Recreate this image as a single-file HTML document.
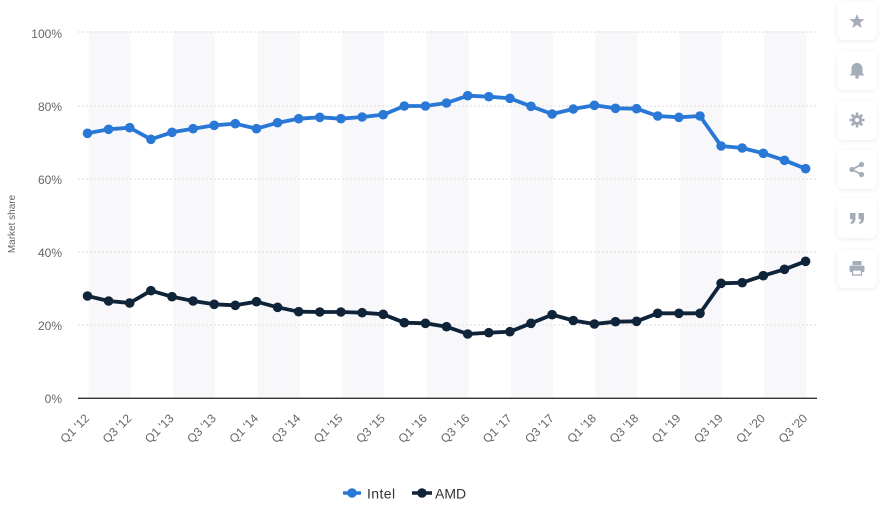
<!DOCTYPE html>
<html><head><meta charset="utf-8"><style>
html,body{margin:0;padding:0;background:#fff;}
body{width:886px;height:510px;overflow:hidden;position:relative;font-family:"Liberation Sans",sans-serif;}
svg{position:absolute;left:0;top:0;}
</style></head><body>
<svg width="886" height="510" viewBox="0 0 886 510" xmlns="http://www.w3.org/2000/svg">
<defs>
<marker id="mi" markerUnits="userSpaceOnUse" markerWidth="12" markerHeight="12" refX="6" refY="6"><circle cx="6" cy="6" r="4.8" fill="#2a78d6"/></marker>
<marker id="ma" markerUnits="userSpaceOnUse" markerWidth="12" markerHeight="12" refX="6" refY="6"><circle cx="6" cy="6" r="4.8" fill="#0f2339"/></marker>
<filter id="sh" x="-30%" y="-30%" width="160%" height="160%"><feDropShadow dx="0" dy="1" stdDeviation="2" flood-color="#000" flood-opacity="0.08"/></filter>
</defs>
<!-- bands -->
<g fill="#f8f8fa">
<rect x="88.5" y="31" width="42.2" height="367"/>
<rect x="173" y="31" width="42.2" height="367"/>
<rect x="257.5" y="31" width="42.2" height="367"/>
<rect x="342" y="31" width="42.2" height="367"/>
<rect x="426.4" y="31" width="42.2" height="367"/>
<rect x="510.9" y="31" width="42.2" height="367"/>
<rect x="595.4" y="31" width="42.2" height="367"/>
<rect x="679.9" y="31" width="42.2" height="367"/>
<rect x="764.3" y="31" width="42.2" height="367"/>
</g>
<!-- grid -->
<g stroke="#dcdcdc" stroke-width="1" stroke-dasharray="2,2">
<line x1="78" y1="32" x2="817" y2="32"/>
<line x1="78" y1="106" x2="817" y2="106"/>
<line x1="78" y1="179" x2="817" y2="179"/>
<line x1="78" y1="252" x2="817" y2="252"/>
<line x1="78" y1="325" x2="817" y2="325"/>
</g>
<line x1="78" y1="398.3" x2="817" y2="398.3" stroke="#333" stroke-width="1.3"/>
<!-- y labels -->
<g font-family="Liberation Sans, sans-serif" font-size="12" fill="#666" text-anchor="end">
<text x="62" y="38">100%</text>
<text x="62" y="111">80%</text>
<text x="62" y="184">60%</text>
<text x="62" y="257">40%</text>
<text x="62" y="330">20%</text>
<text x="62" y="403">0%</text>
</g>
<text transform="translate(15,224) rotate(-90)" text-anchor="middle" font-family="Liberation Sans, sans-serif" font-size="10" fill="#666">Market share</text>
<!-- x labels -->
<g font-family="Liberation Sans, sans-serif" font-size="12" fill="#666" text-anchor="end">
<text transform="translate(90,419) rotate(-45)">Q1 '12</text>
<text transform="translate(132.2,419) rotate(-45)">Q3 '12</text>
<text transform="translate(174.5,419) rotate(-45)">Q1 '13</text>
<text transform="translate(216.7,419) rotate(-45)">Q3 '13</text>
<text transform="translate(259,419) rotate(-45)">Q1 '14</text>
<text transform="translate(301.2,419) rotate(-45)">Q3 '14</text>
<text transform="translate(343.4,419) rotate(-45)">Q1 '15</text>
<text transform="translate(385.7,419) rotate(-45)">Q3 '15</text>
<text transform="translate(427.9,419) rotate(-45)">Q1 '16</text>
<text transform="translate(470.2,419) rotate(-45)">Q3 '16</text>
<text transform="translate(512.4,419) rotate(-45)">Q1 '17</text>
<text transform="translate(554.6,419) rotate(-45)">Q3 '17</text>
<text transform="translate(596.9,419) rotate(-45)">Q1 '18</text>
<text transform="translate(639.1,419) rotate(-45)">Q3 '18</text>
<text transform="translate(681.4,419) rotate(-45)">Q1 '19</text>
<text transform="translate(723.6,419) rotate(-45)">Q3 '19</text>
<text transform="translate(765.8,419) rotate(-45)">Q1 '20</text>
<text transform="translate(808.1,419) rotate(-45)">Q3 '20</text>
</g>
<!-- series -->
<polyline fill="none" stroke="#2a78d6" stroke-width="3.8" stroke-linejoin="round" marker-start="url(#mi)" marker-mid="url(#mi)" marker-end="url(#mi)" points="87.5,133.3 108.6,129.3 129.7,127.7 150.9,139.3 172.0,132.3 193.1,128.7 214.2,125.3 235.3,123.7 256.5,128.7 277.6,122.7 298.7,118.7 319.8,117.3 340.9,118.7 362.1,117.0 383.2,114.7 404.3,106.0 425.4,106.0 446.5,103.0 467.7,95.7 488.8,96.7 509.9,98.3 531.0,106.3 552.1,114.0 573.3,109.0 594.4,105.3 615.5,108.3 636.6,108.7 657.7,116.0 678.9,117.3 700.0,116.0 721.1,146.0 742.2,148.0 763.3,153.3 784.5,160.3 805.6,168.7"/>
<polyline fill="none" stroke="#0f2339" stroke-width="3.8" stroke-linejoin="round" marker-start="url(#ma)" marker-mid="url(#ma)" marker-end="url(#ma)" points="87.5,296 108.6,301 129.7,303 150.9,290.7 172.0,296.7 193.1,301 214.2,304.3 235.3,305.3 256.5,301.7 277.6,307.3 298.7,311.7 319.8,312 340.9,312 362.1,312.7 383.2,314.3 404.3,322.7 425.4,323.3 446.5,326.7 467.7,334 488.8,332.7 509.9,331.7 531.0,323.3 552.1,314.7 573.3,320.5 594.4,324 615.5,321.7 636.6,321.3 657.7,313.3 678.9,313.3 700.0,313.3 721.1,283.3 742.2,282.7 763.3,275.7 784.5,269.3 805.6,261.3"/>
<!-- legend -->
<line x1="343" y1="493" x2="361" y2="493" stroke="#2a78d6" stroke-width="3.5"/>
<circle cx="352" cy="493" r="4.8" fill="#2a78d6"/>
<text x="367" y="498.5" font-family="Liberation Sans, sans-serif" font-size="14" fill="#333" letter-spacing="0.4">Intel</text>
<line x1="412" y1="493" x2="432" y2="493" stroke="#0f2339" stroke-width="3.5"/>
<circle cx="422" cy="493" r="4.8" fill="#0f2339"/>
<text x="435" y="498.5" font-family="Liberation Sans, sans-serif" font-size="14" fill="#333">AMD</text>
<!-- toolbar -->
<g filter="url(#sh)" fill="#fff">
<rect x="837" y="1" width="40" height="39" rx="6"/>
<rect x="837" y="51" width="40" height="39" rx="6"/>
<rect x="837" y="101" width="40" height="39" rx="6"/>
<rect x="837" y="150" width="40" height="39" rx="6"/>
<rect x="837" y="199" width="40" height="39" rx="6"/>
<rect x="837" y="249" width="40" height="39" rx="6"/>
</g>
<g fill="#a3acb7" stroke="none">
<polygon points="857,14 859,19 864.5,19.3 860.2,22.6 861.7,28 857,24.9 852.3,28 853.8,22.6 849.5,19.3 855,19"/>
<path d="M857,63 c-3.8,0 -5.5,3 -5.5,6 l0,4 l-2,2.5 l15,0 l-2,-2.5 l0,-4 c0,-3 -1.7,-6 -5.5,-6 z"/>
<circle cx="857" cy="77" r="1.8"/>
<circle cx="857" cy="120" r="5"/>
<g stroke="#a3acb7" stroke-width="2.6">
<line x1="857" y1="112.5" x2="857" y2="127.5"/>
<line x1="849.5" y1="120" x2="864.5" y2="120"/>
<line x1="851.7" y1="114.7" x2="862.3" y2="125.3"/>
<line x1="862.3" y1="114.7" x2="851.7" y2="125.3"/>
</g>
<circle cx="857" cy="120" r="2" fill="#fff"/>
<g stroke="#a3acb7" stroke-width="1.8"><line x1="852" y1="169.5" x2="861.5" y2="164.5"/><line x1="852" y1="169.5" x2="861.5" y2="174.5"/></g>
<circle cx="852" cy="169.5" r="2.6"/><circle cx="861.5" cy="164.5" r="2.6"/><circle cx="861.5" cy="174.5" r="2.6"/>
<path d="M850,213 h5.5 v5.5 c0,3 -1.5,5 -4.5,5.5 l-0.5,-1.8 c1.5,-0.5 2,-1.5 2,-3 h-2.5 z"/>
<path d="M858.5,213 h5.5 v5.5 c0,3 -1.5,5 -4.5,5.5 l-0.5,-1.8 c1.5,-0.5 2,-1.5 2,-3 h-2.5 z"/>
<rect x="852.5" y="261" width="9" height="4" rx="0.5"/>
<rect x="849.5" y="265.5" width="15" height="6.5" rx="1.5"/>
<rect x="852.5" y="270" width="9" height="5" fill="#fff" stroke="#a3acb7" stroke-width="1.3"/>
</g>
</svg>
</body></html>
